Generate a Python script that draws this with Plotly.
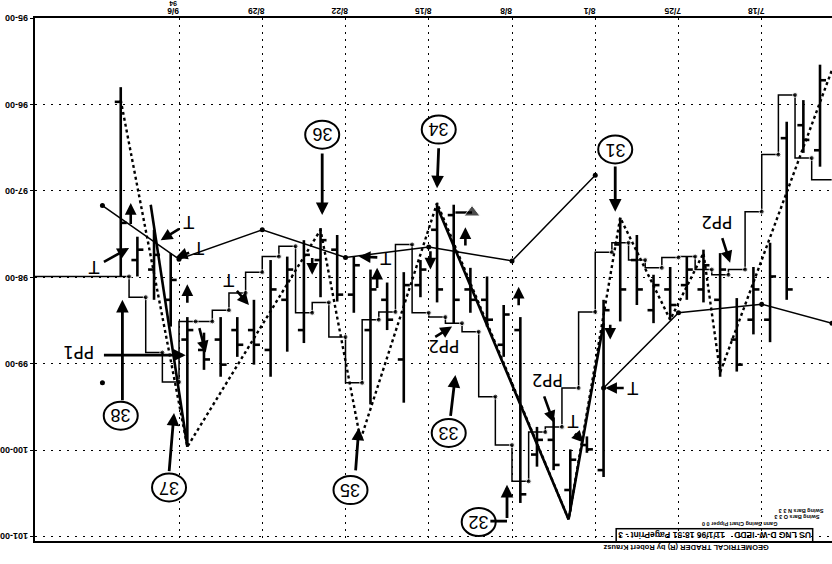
import plotly.graph_objects as go

# ---------------- axis ticks ----------------
week_labels = ["7/18", "7/25", "8/1", "8/8", "8/15", "8/22", "8/29", "9/6"]
week_start_idx = [5, 10, 15, 20, 25, 30, 35, 40]          # trading-day index of week start
year_label = "94"
price_ticks = [95, 96, 97, 98, 99, 100, 101]
price_labels = ["95-00", "96-00", "97-00", "98-00", "99-00", "100-00", "101-00"]

# ---------------- daily bars (trading-day index) ----------------
bar_idx = list(range(1, 44))
bar_low = [95.54, 95.95, 96.20, 97.60, 97.88, 98.24, 97.72, 97.68, 97.76, 97.88, 97.97, 97.51, 97.31,
           98.26, 99.84, 99.99, 99.62, 99.73, 98.46, 98.32, 97.99, 97.89, 97.16, 97.14, 97.80, 97.94,
           98.06, 97.91, 97.76, 97.51, 97.43, 97.57, 97.76, 97.80, 98.26, 98.46, 98.46, 98.64, 98.46,
           97.72, 97.45, 97.53, 95.80]
bar_high = [96.72, 96.56, 98.26, 98.75, 98.66, 99.09, 99.15, 98.29, 98.26, 98.49, 98.53, 98.32, 98.51,
            100.31, 100.03, 100.71, 100.23, 100.19, 100.61, 98.92, 98.57, 98.41, 98.53, 98.29, 98.23,
            99.45, 98.61, 99.47, 98.41, 98.28, 98.23, 98.76, 98.86, 99.15, 99.01, 98.92, 99.15, 99.07,
            99.96, 98.57, 98.26, 97.99, 97.99]
bar_close = [96.53, 96.24, 96.39, 98.49, 98.49, 98.72, 98.26, 98.14, 98.09, 98.14, 98.38, 97.80, 97.62,
             100.23, 99.94, 100.46, 99.88, 100.05, 98.61, 98.78, 98.26, 98.14, 97.28, 97.45, 98.09, 98.95,
             98.26, 98.61, 98.20, 97.68, 97.80, 98.61, 98.26, 98.84, 98.61, 98.61, 98.72, 98.84, 98.72,
             98.26, 97.91, 97.80, 95.97]
bar_open = [95.72, 96.41, 98.14, 97.99, 98.14, 99.01, 97.91, 97.86, 97.91, 98.32, 98.09, 98.14, 98.14,
            98.38, 99.99, 100.11, 100.17, 99.88, 100.51, 98.43, 98.49, 98.26, 98.26, 98.14, 97.91, 98.09,
            98.49, 98.14, 97.86, 98.20, 97.57, 97.74, 97.91, 98.14, 98.78, 98.78, 99.01, 98.95, 98.61,
            98.03, 97.74, 97.68, 97.37]

# ---------------- step (lagged swing) line ----------------
step_idx = [0.3, 1.5, 2.5, 3.5, 4.5, 5.5, 6.5, 7.5, 8.5, 9.5, 10.5, 11.5, 12.5, 13.5, 14.5, 15.5, 16.5,
            17.5, 18.5, 19.5, 20.5, 21.5, 22.5, 23.5, 24.5, 25.5, 26.5, 27.5, 28.5, 29.5, 30.5, 31.5,
            32.5, 33.5, 34.5, 35.5, 36.5, 37.5, 38.5, 39.5, 40.5, 41.5, 42.5, 48.2]
step_px = [96.87, 96.62, 95.89, 96.58, 97.24, 97.91, 97.97, 97.91, 97.76, 97.77, 97.89, 97.80, 97.60,
           97.71, 98.40, 99.28, 99.73, 99.79, 100.36, 99.94, 99.38, 98.63, 98.53, 98.46, 98.41, 97.62,
           98.40, 98.49, 99.22, 98.69, 98.29, 98.41, 97.64, 97.76, 97.94, 98.18, 98.38, 98.51, 98.51,
           99.21, 98.87, 98.23, 97.99, 97.99]

# ---------------- weekly lines ----------------
weekA_idx = [44.1, 39.5, 34.5, 29.5, 24.5, 19.5, 14.5]
weekA_px = [97.17, 97.79, 97.45, 97.77, 97.65, 97.81, 96.82]
weekB_idx = [0.28, 4.5, 9.5, 14.0]
weekB_px = [98.53, 98.31, 98.41, 99.28]

# ---------------- trend lines ----------------
trend1_idx = [41.2, 39.0]
trend1_px = [97.16, 99.96]
trend2_idx = [24.0, 16.1, 14.0]
trend2_px = [97.18, 100.80, 98.53]

# ---------------- swing (dotted zig-zag) ----------------
swing_idx = [43.0, 39.0, 31.0, 28.6, 24.0, 16.1, 13.0, 10.0, 8.0, 7.0, 0.28]
swing_px = [95.95, 99.96, 97.45, 99.88, 97.14, 100.80, 97.31, 98.49, 97.72, 99.10, 95.60]

# ---------------- swing numbers ----------------
swing_labels = ["38", "37", "36", "35", "34", "33", "32", "31"]
label_idx = [43.0, 40.1, 30.9, 29.2, 23.9, 23.3, 21.5, 13.3]
label_px = [99.60, 100.43, 96.35, 100.46, 96.29, 99.80, 100.83, 96.52]
# arrows: tail -> head
arrow_tail_idx = [42.9, 40.1, 30.9, 28.9, 23.9, 23.2, 19.8, 13.3]
arrow_tail_px = [99.44, 100.26, 96.55, 100.25, 96.49, 99.62, 100.80, 96.70]
arrow_head_idx = [42.9, 39.8, 30.9, 28.7, 24.0, 22.9, 19.8, 13.3]
arrow_head_px = [98.26, 99.57, 97.28, 99.74, 96.97, 99.13, 100.40, 97.24]

# ---------------- PP labels ----------------
pp_text = ["PP1", "PP2", "PP2", "PP2"]
pp_idx = [45.5, 23.6, 17.4, 7.2]
pp_px = [98.87, 98.80, 99.18, 97.36]
pp_tail_idx = [44.1, 24.2, 17.6, 6.9]
pp_tail_px = [98.90, 98.70, 99.36, 97.53]
pp_head_idx = [39.1, 23.1, 17.0, 6.4]
pp_head_px = [98.90, 98.57, 99.68, 97.83]

# ---------------- T markers ----------------
t_idx = [44.6, 38.9, 38.3, 27.1, 12.2, 15.8, 36.5]
t_px = [97.88, 97.36, 97.66, 97.77, 99.28, 99.67, 98.03]
t_tail_idx = [44.1, 39.4, 38.8, 27.5, 12.7, 15.8, 36.1]
t_tail_px = [97.83, 97.43, 97.71, 97.77, 99.28, 99.79, 98.14]
t_head_idx = [42.5, 40.6, 39.7, 28.7, 13.9, 15.2, 35.3]
t_head_px = [97.66, 97.57, 97.77, 97.76, 99.28, 99.91, 98.32]

# ---------------- small hook arrows ----------------
hook_tail_idx = [42.4, 39.0, 27.6, 22.3, 19.1, 31.5, 24.4, 38.3, 13.6]
hook_tail_px = [97.40, 98.31, 98.14, 97.65, 98.34, 97.76, 97.68, 98.57, 98.53]
hook_head_idx = [42.4, 39.0, 27.6, 22.3, 19.1, 31.5, 24.4, 37.9, 13.6]
hook_head_px = [97.14, 98.08, 97.89, 97.42, 98.11, 97.97, 97.91, 98.87, 98.72]

# ---------------- misc ----------------
flag_idx = [22.9, 21.9]
flag_px = [97.25, 97.25]
dot_idx = [44.1]
dot_px = [99.22]

fig = go.Figure()

# bars: vertical range + close tick (visual left) + open tick (visual right)
tick = 0.36
bx, by = [], []
for k, lo, hi, c, o in zip(bar_idx, bar_low, bar_high, bar_close, bar_open):
    bx += [k, k, None, k, k + tick, None, k - tick, k, None]
    by += [lo, hi, None, c, c, None, o, o, None]
fig.add_trace(go.Scatter(x=bx, y=by, mode="lines", line=dict(color="black", width=2.6),
                         hoverinfo="skip", showlegend=False))

# step line
sizes = [0] + [5] * (len(step_idx) - 2) + [0]
fig.add_trace(go.Scatter(x=step_idx, y=step_px, mode="lines+markers", line_shape="hv",
                         line=dict(color="black", width=1.5),
                         marker=dict(color="black", size=sizes), showlegend=False))

# weekly thin lines
for xs, ys in [(weekA_idx, weekA_px), (weekB_idx, weekB_px)]:
    fig.add_trace(go.Scatter(x=xs, y=ys, mode="lines+markers", line=dict(color="black", width=1.5),
                             marker=dict(color="black", size=5), showlegend=False))

# trend lines
for xs, ys in [(trend1_idx, trend1_px), (trend2_idx, trend2_px)]:
    fig.add_trace(go.Scatter(x=xs, y=ys, mode="lines", line=dict(color="black", width=2.6),
                             showlegend=False))

# swing dotted line
fig.add_trace(go.Scatter(x=swing_idx, y=swing_px, mode="lines",
                         line=dict(color="black", width=2.4, dash="3px,3px"), showlegend=False))

# flag with filled triangle
fig.add_trace(go.Scatter(x=flag_idx, y=flag_px, mode="lines+markers",
                         line=dict(color="black", width=2.4),
                         marker=dict(symbol="triangle-up", size=[0, 14], color="black"),
                         showlegend=False))
fig.add_trace(go.Scatter(x=dot_idx, y=dot_px, mode="markers", marker=dict(color="black", size=5),
                         showlegend=False))

annotations = []
shapes = []


def arrow(tk, tp, hk, hp, width=2.4):
    annotations.append(dict(x=hk, y=hp, ax=tk, ay=tp, xref="x", yref="y", axref="x", ayref="y",
                            text="", showarrow=True, arrowhead=2, arrowsize=0.9, arrowwidth=width,
                            arrowcolor="black", standoff=0, startstandoff=0))


tickfont = dict(family="Liberation Sans", size=9, color="black", weight="bold")

# upside-down tick labels (drawn as annotations so they can be right-aligned after rotation)
for v, t in zip(price_ticks, price_labels):
    annotations.append(dict(x=0, y=v, xref="paper", yref="y", xanchor="right", yanchor="middle",
                            xshift=-5, text=t, showarrow=False, textangle=180, font=tickfont))
for i, t in zip(week_start_idx, week_labels):
    annotations.append(dict(x=i - 0.5, y=1, xref="x", yref="paper", xanchor="center", yanchor="middle",
                            xshift=-6, yshift=7, text=t, showarrow=False, textangle=180,
                            font=dict(family="Liberation Sans", size=8.5, color="black", weight="bold")))
annotations.append(dict(x=week_start_idx[-1] - 0.5, y=1, xref="x", yref="paper", xanchor="center",
                        yanchor="middle", xshift=-6, yshift=14.5, text=year_label, showarrow=False,
                        textangle=180, font=dict(family="Liberation Sans", size=7, color="black",
                                                 weight="bold")))

# swing numbers in circles
for lab, k, p in zip(swing_labels, label_idx, label_px):
    shapes.append(dict(type="circle", xref="x", yref="y", xsizemode="pixel", ysizemode="pixel",
                       xanchor=k, yanchor=p, x0=-17, x1=17, y0=-14, y1=14,
                       line=dict(color="black", width=2), fillcolor="white", layer="above"))
    annotations.append(dict(x=k, y=p, xref="x", yref="y", text=lab, showarrow=False, textangle=180,
                            font=dict(family="Liberation Sans", size=18, color="black")))
for a, b, c, d in zip(arrow_tail_idx, arrow_tail_px, arrow_head_idx, arrow_head_px):
    arrow(a, b, c, d, 2.8)
# elbow of the 32 arrow
shapes.append(dict(type="line", xref="x", yref="y", x0=20.8, x1=19.8, y0=100.82, y1=100.82,
                   line=dict(color="black", width=2.8)))

# PP labels
for t, k, p in zip(pp_text, pp_idx, pp_px):
    annotations.append(dict(x=k, y=p, xref="x", yref="y", text=t, showarrow=False, textangle=180,
                            font=dict(family="DejaVu Sans", size=17, color="black")))
for a, b, c, d in zip(pp_tail_idx, pp_tail_px, pp_head_idx, pp_head_px):
    arrow(a, b, c, d, 2.6)

# T markers
for k, p in zip(t_idx, t_px):
    annotations.append(dict(x=k, y=p, xref="x", yref="y", text="T", showarrow=False, textangle=180,
                            font=dict(family="DejaVu Sans", size=17, color="#000000")))
for a, b, c, d in zip(t_tail_idx, t_tail_px, t_head_idx, t_head_px):
    arrow(a, b, c, d, 2.6)

# hook arrows
for a, b, c, d in zip(hook_tail_idx, hook_tail_px, hook_head_idx, hook_head_px):
    arrow(a, b, c, d, 2.6)

# footer texts (upside down, as in the scan)
annotations.append(dict(x=0.728, y=0.0115, xref="paper", yref="paper", xanchor="left", yanchor="middle",
                        text="US LNG D-W- IEDD    11/1/96 18:51 PagePrint - 3", showarrow=False,
                        textangle=180, bordercolor="black", borderwidth=1.5, borderpad=1,
                        font=dict(family="Liberation Sans", size=8.5, color="black", weight="bold")))
annotations.append(dict(x=0.71, y=-0.0134, xref="paper", yref="paper", xanchor="left", yanchor="middle",
                        text="GEOMETRICAL TRADER (R) by Robert Krausz", showarrow=False, textangle=180,
                        font=dict(family="Liberation Sans", size=7.5, color="black", weight="bold")))
for txt, xx, yy in [("Swing Bars N 3 3", 0.93, 0.0574), ("Swing Bars O 3 3", 0.925, 0.0459),
                    ("Gann Swing Chart Pipper 0 0", 0.834, 0.0325)]:
    annotations.append(dict(x=xx, y=yy, xref="paper", yref="paper", xanchor="left", yanchor="middle",
                            text=txt, showarrow=False, textangle=180,
                            font=dict(family="Liberation Sans", size=5.5, color="black", weight="bold")))

fig.update_layout(
    width=832, height=564,
    margin=dict(l=35, r=0, t=18, b=23),
    plot_bgcolor="white", paper_bgcolor="white",
    showlegend=False,
    hovermode=False,
    xaxis=dict(range=[48.15, 0.28], tickvals=[i - 0.5 for i in week_start_idx], ticktext=week_labels,
               side="top", showticklabels=False, showgrid=True, gridcolor="black",
               griddash="2px,5px", gridwidth=1, zeroline=False, showline=True, linecolor="black",
               linewidth=2, mirror=True, ticks="", automargin=False),
    yaxis=dict(range=[101.05, 95], tickvals=price_ticks, ticktext=price_labels, showticklabels=False,
               showgrid=True, gridcolor="black", griddash="2px,6px", gridwidth=1,
               zeroline=False, showline=True, linecolor="black", linewidth=2, ticks="outside",
               ticklen=3, tickcolor="black", automargin=False),
    annotations=annotations,
    shapes=shapes,
)

fig.write_html("out.html", config={"displayModeBar": False},
               post_script="document.body.style.margin='0px';document.body.style.overflow='hidden';")
